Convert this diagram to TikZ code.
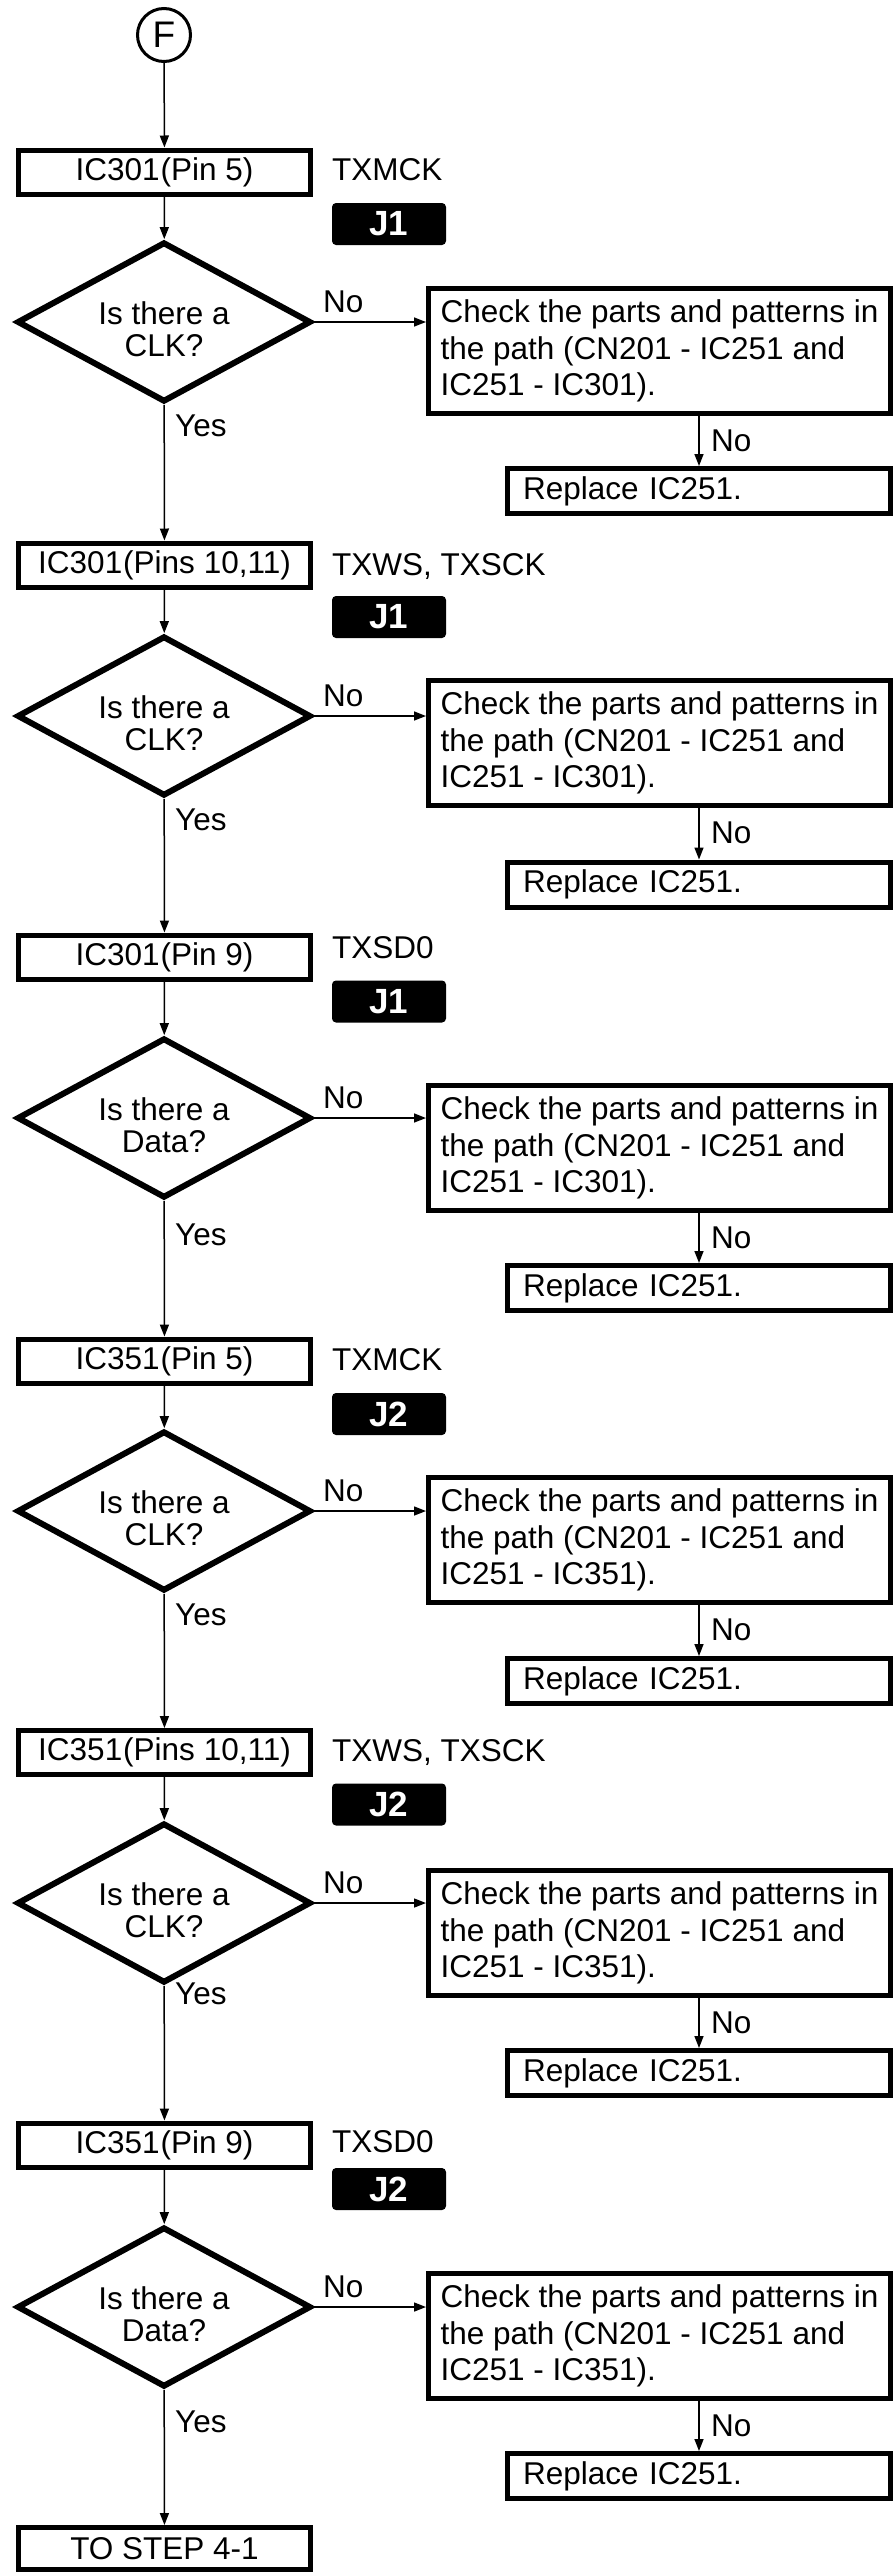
\documentclass[tikz,border=0pt]{standalone}
\usepackage{fontspec}
\setmainfont{Liberation Sans}
\usetikzlibrary{shapes.geometric,arrows.meta,calc}
\begin{document}
\begin{tikzpicture}[x=1pt,y=-1pt,
  pbox/.style={draw, line width=5pt, minimum width=292pt, minimum height=44pt, inner sep=0pt,
    font=\fontsize{31.5}{36}\selectfont},
  dia/.style={diamond, draw, line width=6pt, minimum width=294pt, minimum height=160pt,
    inner sep=0pt, aspect=1.84},
  dtext/.style={align=center, inner sep=0pt, font=\fontsize{31.5}{32}\selectfont},
  chk/.style={draw, line width=5pt, minimum width=462pt, minimum height=125pt,
    align=left, inner xsep=0pt, inner ysep=0pt, font=\fontsize{31.5}{36.5}\selectfont},
  rep/.style={draw, line width=5pt, minimum width=383pt, minimum height=45pt, text width=352pt,
    align=left, inner xsep=15.5pt, inner ysep=0pt, font=\fontsize{31.5}{36}\selectfont},
  lab/.style={anchor=west, inner sep=0pt, text height=22.5pt, text depth=0pt,
    font=\fontsize{31.5}{36}\selectfont},
  badge/.style={fill=black, rounded corners=4pt, minimum width=114pt, minimum height=42pt,
    inner sep=0pt, text=white, font=\fontsize{35}{35}\bfseries\selectfont},
  arr/.style={line width=1.5pt, -{Triangle[length=12pt,width=9pt]}}
]
\useasboundingbox (0,0) rectangle (894,2572);

% start
\node[circle, draw, line width=3pt, minimum size=53pt, inner sep=0pt,
  font=\fontsize{37}{37}\selectfont] (f) at (164,35) {F};

% ---------- block 1
\node[pbox] (b1) at (164.5,172) {IC301\kern1pt(Pin 5)};
\node[lab] (l1) at (332,169) {TXMCK};
\node[badge] (j1) at (389,224) {J1};
\node[dia] (d1) at (164,322) {};
\node[dtext] (t1) at (164,329) {Is there a\\CLK?};
\node[chk] (c1) at (659.5,351) {Check the parts and patterns in\\the path (CN201 - IC251 and\\IC251 - IC301).};
\node[rep] (r1) at (699,491) {Replace IC251.};
\node[lab, anchor=south west] (n1) at ($(d1.east)+(9,-9)$) {No};
\node[lab] (y1) at (175,425) {Yes};
\node[lab] (m1) at ($(c1.south -| r1.north)+(12,24)$) {No};
\draw[arr] (f) -- (b1);
\draw[arr] (b1) -- (d1);
\draw[arr] (d1.east) -- (d1.east -| c1.west);
\draw[arr] (c1.south -| r1.north) -- (r1.north);

% ---------- block 2
\node[pbox] (b2) at (164.5,565) {IC301\kern1pt(Pins 10,11)};
\node[lab] (l2) at (332,564) {TXWS, TXSCK};
\node[badge] (j2) at (389,617) {J1};
\node[dia] (d2) at (164,716) {};
\node[dtext] (t2) at (164,723) {Is there a\\CLK?};
\node[chk] (c2) at (659.5,743) {Check the parts and patterns in\\the path (CN201 - IC251 and\\IC251 - IC301).};
\node[rep] (r2) at (699,884.5) {Replace IC251.};
\node[lab, anchor=south west] (n2) at ($(d2.east)+(9,-9)$) {No};
\node[lab] (y2) at (175,819) {Yes};
\node[lab] (m2) at ($(c2.south -| r2.north)+(12,24)$) {No};
\draw[arr] (d1) -- (b2);
\draw[arr] (b2) -- (d2);
\draw[arr] (d2.east) -- (d2.east -| c2.west);
\draw[arr] (c2.south -| r2.north) -- (r2.north);

% ---------- block 3
\node[pbox] (b3) at (164.5,957) {IC301\kern1pt(Pin 9)};
\node[lab] (l3) at (332,947.5) {TXSD0};
\node[badge] (j3) at (389,1001.5) {J1};
\node[dia] (d3) at (164,1118) {};
\node[dtext] (t3) at (164,1125) {Is there a\\Data?};
\node[chk] (c3) at (659.5,1148) {Check the parts and patterns in\\the path (CN201 - IC251 and\\IC251 - IC301).};
\node[rep] (r3) at (699,1288) {Replace IC251.};
\node[lab, anchor=south west] (n3) at ($(d3.east)+(9,-9)$) {No};
\node[lab] (y3) at (175,1234) {Yes};
\node[lab] (m3) at ($(c3.south -| r3.north)+(12,24)$) {No};
\draw[arr] (d2) -- (b3);
\draw[arr] (b3) -- (d3);
\draw[arr] (d3.east) -- (d3.east -| c3.west);
\draw[arr] (c3.south -| r3.north) -- (r3.north);

% ---------- block 4
\node[pbox] (b4) at (164.5,1361) {IC351\kern1pt(Pin 5)};
\node[lab] (l4) at (332,1359) {TXMCK};
\node[badge] (j4) at (389,1414) {J2};
\node[dia] (d4) at (164,1511) {};
\node[dtext] (t4) at (164,1518) {Is there a\\CLK?};
\node[chk] (c4) at (659.5,1540) {Check the parts and patterns in\\the path (CN201 - IC251 and\\IC251 - IC351).};
\node[rep] (r4) at (699,1681) {Replace IC251.};
\node[lab, anchor=south west] (n4) at ($(d4.east)+(9,-9)$) {No};
\node[lab] (y4) at (175,1614) {Yes};
\node[lab] (m4) at ($(c4.south -| r4.north)+(12,24)$) {No};
\draw[arr] (d3) -- (b4);
\draw[arr] (b4) -- (d4);
\draw[arr] (d4.east) -- (d4.east -| c4.west);
\draw[arr] (c4.south -| r4.north) -- (r4.north);

% ---------- block 5
\node[pbox] (b5) at (164.5,1752.5) {IC351\kern1pt(Pins 10,11)};
\node[lab] (l5) at (332,1750) {TXWS, TXSCK};
\node[badge] (j5) at (389,1804.5) {J2};
\node[dia] (d5) at (164,1903) {};
\node[dtext] (t5) at (164,1910) {Is there a\\CLK?};
\node[chk] (c5) at (659.5,1933) {Check the parts and patterns in\\the path (CN201 - IC251 and\\IC251 - IC351).};
\node[rep] (r5) at (699,2073) {Replace IC251.};
\node[lab, anchor=south west] (n5) at ($(d5.east)+(9,-9)$) {No};
\node[lab] (y5) at (175,1993) {Yes};
\node[lab] (m5) at ($(c5.south -| r5.north)+(12,24)$) {No};
\draw[arr] (d4) -- (b5);
\draw[arr] (b5) -- (d5);
\draw[arr] (d5.east) -- (d5.east -| c5.west);
\draw[arr] (c5.south -| r5.north) -- (r5.north);

% ---------- block 6
\node[pbox] (b6) at (164.5,2145) {IC351\kern1pt(Pin 9)};
\node[lab] (l6) at (332,2141.5) {TXSD0};
\node[badge] (j6) at (389,2189) {J2};
\node[dia] (d6) at (164,2307) {};
\node[dtext] (t6) at (164,2314) {Is there a\\Data?};
\node[chk] (c6) at (659.5,2336) {Check the parts and patterns in\\the path (CN201 - IC251 and\\IC251 - IC351).};
\node[rep] (r6) at (699,2476) {Replace IC251.};
\node[lab, anchor=south west] (n6) at ($(d6.east)+(9,-9)$) {No};
\node[lab] (y6) at (175,2421) {Yes};
\node[lab] (m6) at ($(c6.south -| r6.north)+(12,24)$) {No};
\draw[arr] (d5) -- (b6);
\draw[arr] (b6) -- (d6);
\draw[arr] (d6.east) -- (d6.east -| c6.west);
\draw[arr] (c6.south -| r6.north) -- (r6.north);

% ---------- end
\node[pbox, minimum height=42pt] (e) at (164.5,2548.5) {TO STEP 4-1};
\draw[arr] (d6) -- (e);
\end{tikzpicture}
\end{document}
